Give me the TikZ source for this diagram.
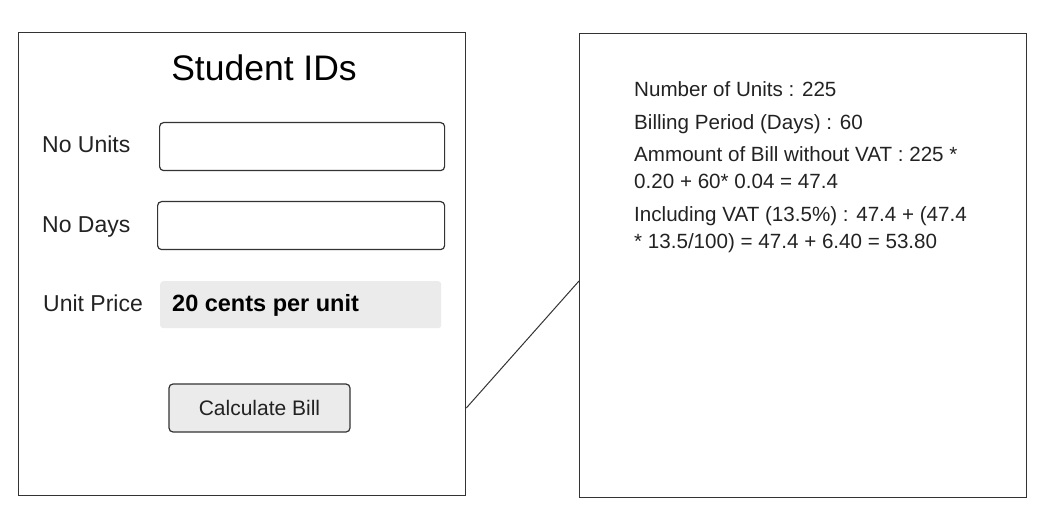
\documentclass[tikz,border=0pt]{standalone}
\usepackage{fontspec}
\setmainfont{Liberation Sans}
\usepackage{tikz}
\usetikzlibrary{positioning,calc}
\definecolor{edgegray}{HTML}{333333}
\definecolor{fieldgray}{HTML}{EBEBEB}
\definecolor{textgray}{HTML}{222222}

\begin{document}
\begin{tikzpicture}[x=1pt,y=-1pt,
	frame node/.style={draw=edgegray, line width=1.3pt, minimum width=447pt, minimum height=463pt, inner sep=0pt, anchor=north west},
	input node/.style={draw=edgegray, line width=1.2pt, rounded corners=4pt, minimum height=48pt, inner sep=0pt, anchor=north west},
	label node/.style={anchor=base west, inner sep=0pt, text=textgray, font=\fontsize{23}{26}\selectfont},
	result node/.style={anchor=base west, inner sep=0pt, align=left, text=textgray, font=\fontsize{20.6}{27}\selectfont}]
				\useasboundingbox (0,0) rectangle (1051,526);
				
				% form window
				\node[frame node] (form) at (18,32) {};
				\node[anchor=base, inner sep=0pt, font=\fontsize{35.5}{40}\selectfont] (title) at (264,81) {Student IDs};
				
				\node[label node] (unitslbl) at (42,153) {No Units};
				\node[input node, minimum width=285pt] (units) at (159,122) {};
				
				\node[label node] (dayslbl) at (42,233) {No Days};
				\node[input node, minimum width=287pt] (days) at (157,201) {};
				
				\node[label node] (pricelbl) at (43,312) {Unit Price};
				\node[anchor=north west, fill=fieldgray, rounded corners=3pt, minimum width=281pt, minimum height=47pt, inner sep=0pt] (price) at (160,281) {};
				\node[anchor=base west, inner sep=0pt, font=\bfseries\fontsize{23.5}{26}\selectfont] (pricetxt) at (172,312) {20 cents per unit};
				
				\node[draw=edgegray, line width=1.2pt, fill=fieldgray, rounded corners=4pt, minimum width=181pt, minimum height=48pt, inner sep=0pt, text=textgray, font=\fontsize{21}{24}\selectfont] (bill) at (259.5,408) {Calculate Bill};
				
				% result window (multi-line nodes sit on their last baseline)
				\node[frame node, minimum height=464pt] (result) at (579,33) {};
				\node[result node] (res1) at (634,97) {Number of Units : 225};
				\node[result node] (res2) at (634,130) {Billing Period (Days) : 60};
				\node[result node] (res3) at (634,189) {Ammount of Bill without VAT : 225 *\\0.20 + 60* 0.04 = 47.4};
				\node[result node] (res4) at (634,249) {Including VAT (13.5\%) : 47.4 + (47.4\\* 13.5/100) = 47.4 + 6.40 = 53.80};
				
				\draw[edgegray, line width=1pt] (form.east |- bill) -- (result.west |- price.north);
				
\end{tikzpicture}
\end{document}
